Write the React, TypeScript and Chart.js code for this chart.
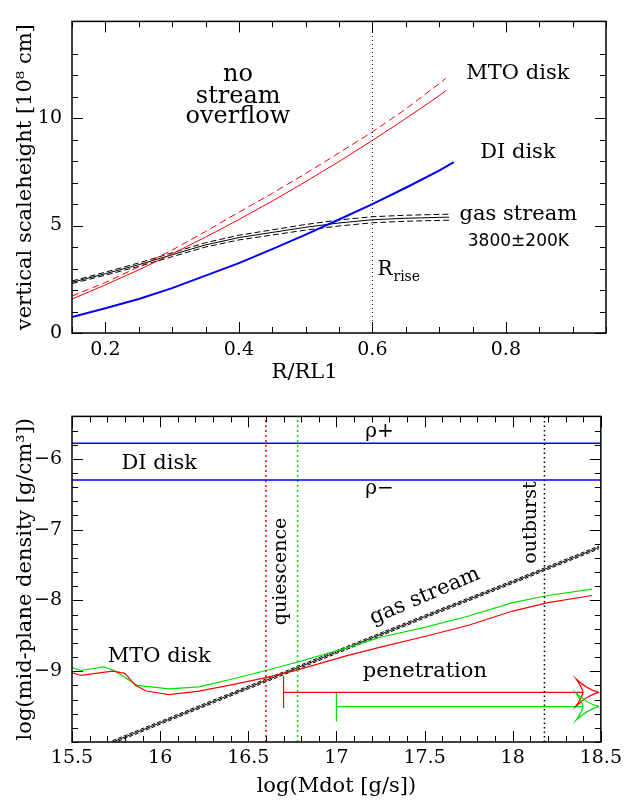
import React, { useEffect, useRef } from 'react';
import { Chart, registerables } from 'chart.js';

Chart.register(...registerables);

const SERIF = '"DejaVu Serif", serif';
const SANS = '"DejaVu Sans", sans-serif';
const RED = '#ff0000';
const GREEN = '#00e000';
const BLUE = '#0000ff';
const BLACK = '#000000';

// ---------------- top panel: vertical scale height vs R/RL1 ----------------
const topXMajor = [0.2, 0.4, 0.6, 0.8];
const topXLabels = ['0.2', '0.4', '0.6', '0.8'];
const topYMajor = [0, 5, 10];
const topYLabels = ['0', '5', '10'];

const mtoR = [0.15, 0.2, 0.25, 0.3, 0.35, 0.4, 0.45, 0.5, 0.55, 0.6, 0.65, 0.7, 0.71];
const mtoSolid = [1.58, 2.24, 2.94, 3.68, 4.46, 5.28, 6.14, 7.04, 7.98, 8.96, 9.98, 11.04, 11.27];
const mtoDashed = [1.72, 2.35, 3.08, 3.86, 4.72, 5.62, 6.5, 7.42, 8.38, 9.36, 10.42, 11.6, 11.85];

const diR = [0.15, 0.2, 0.25, 0.3, 0.35, 0.4, 0.45, 0.5, 0.55, 0.6, 0.65, 0.7, 0.722];
const diHeight = [0.74, 1.15, 1.58, 2.09, 2.67, 3.25, 3.9, 4.58, 5.28, 6.0, 6.76, 7.56, 7.95];

const gasR = [0.15, 0.2, 0.25, 0.3, 0.35, 0.4, 0.45, 0.5, 0.55, 0.6, 0.65, 0.7, 0.715];
const gasMid = [2.36, 2.76, 3.18, 3.64, 4.1, 4.44, 4.68, 4.92, 5.12, 5.27, 5.34, 5.38, 5.39];
const gasHi = [2.42, 2.83, 3.26, 3.73, 4.2, 4.55, 4.8, 5.05, 5.26, 5.41, 5.48, 5.52, 5.53];
const gasLo = [2.3, 2.69, 3.1, 3.55, 4.0, 4.33, 4.56, 4.79, 4.98, 5.13, 5.2, 5.24, 5.25];

const rRise = 0.6;
const topXRange = [0.15, 0.95];
const topYRange = [0, 14.5];

// ---------------- bottom panel: mid-plane density vs Mdot ----------------
const botXMajor = [15.5, 16, 16.5, 17, 17.5, 18, 18.5];
const botXLabels = ['15.5', '16', '16.5', '17', '17.5', '18', '18.5'];
const botYMajor = [-9, -8, -7, -6];
const botYLabels = ['\u22129', '\u22128', '\u22127', '\u22126'];
const botXRange = [15.5, 18.5];
const botYRange = [-10, -5.4];

const rhoPlus = -5.78;
const rhoMinus = -6.3;
const quiescenceRed = 16.6;
const quiescenceGreen = 16.78;
const outburst = 18.18;

const gasMdot = [15.73, 16.0, 16.5, 17.0, 17.5, 18.0, 18.49];
const gasDens = [-10.0, -9.73, -9.23, -8.73, -8.23, -7.74, -7.25];
const gasDensHi = [-9.98, -9.71, -9.21, -8.71, -8.21, -7.72, -7.23];
const gasDensLo = [-10.02, -9.75, -9.25, -8.75, -8.25, -7.76, -7.27];

const mtoRedMdot = [15.5, 15.55, 15.73, 15.8, 15.86, 15.92, 16.05, 16.22, 16.41, 16.6, 16.78, 17.06, 17.25, 17.5, 17.75, 18.0, 18.2, 18.45];
const mtoRedDens = [-9.02, -9.06, -9.0, -9.03, -9.2, -9.28, -9.33, -9.28, -9.19, -9.09, -8.98, -8.78, -8.66, -8.51, -8.35, -8.15, -8.03, -7.93];
const mtoGreenMdot = [15.5, 15.55, 15.68, 15.74, 15.87, 16.05, 16.22, 16.41, 16.6, 16.78, 17.06, 17.25, 17.5, 17.75, 18.0, 18.2, 18.45];
const mtoGreenDens = [-8.95, -8.99, -8.94, -8.99, -9.2, -9.25, -9.22, -9.11, -8.99, -8.87, -8.67, -8.52, -8.38, -8.22, -8.03, -7.93, -7.84];

// penetration ranges: [start, line end], level, start-bar extent, arrow tip
const penRedX = [16.7, 18.4];
const penRedY = -9.3;
const penRedBar = [-9.07, -9.52];
const penGreenX = [17.0, 18.4];
const penGreenY = -9.5;
const penGreenBar = [-9.3, -9.71];
const penTip = 18.49;

// ---------------- helpers ----------------
const pts = (xs: number[], ys: number[]) => xs.map((x, i) => ({ x, y: ys[i] }));

const line = (xs: number[], ys: number[], color: string, width: number, dash: number[] = []) => ({
  data: pts(xs, ys),
  showLine: true,
  borderColor: color,
  backgroundColor: color,
  borderWidth: width,
  borderDash: dash,
  pointRadius: 0,
  pointHoverRadius: 0,
  fill: false,
  tension: 0,
});

const near = (a: number, b: number) => Math.abs(a - b) < 1e-6;
const labelFor = (majors: number[], labels: string[]) => (v: any) => {
  const i = majors.findIndex((m) => near(m, Number(v)));
  return i >= 0 ? labels[i] : '';
};

const framePlugin = (xMajor: number[], yMajor: number[]) => ({
  id: 'frame',
  afterDatasetsDraw(chart: any) {
    const { ctx, chartArea, scales } = chart;
    const { left, right, top, bottom } = chartArea;
    const xs = scales.x;
    const ys = scales.y;
    ctx.save();
    ctx.strokeStyle = BLACK;
    ctx.lineWidth = 1;
    ctx.beginPath();
    for (const t of xs.ticks) {
      const p = Math.round(xs.getPixelForValue(t.value)) + 0.5;
      const L = xMajor.some((m) => near(m, t.value)) ? 11 : 6;
      ctx.moveTo(p, bottom);
      ctx.lineTo(p, bottom - L);
      ctx.moveTo(p, top);
      ctx.lineTo(p, top + L);
    }
    for (const t of ys.ticks) {
      const p = Math.round(ys.getPixelForValue(t.value)) + 0.5;
      const L = yMajor.some((m) => near(m, t.value)) ? 11 : 6;
      ctx.moveTo(left, p);
      ctx.lineTo(left + L, p);
      ctx.moveTo(right, p);
      ctx.lineTo(right - L, p);
    }
    ctx.stroke();
    ctx.lineWidth = 1.5;
    ctx.strokeRect(left, top, right - left, bottom - top);
    ctx.restore();
  },
});

type Note = { text: string; x: number; y: number; size: number; family?: string; rot?: number; sub?: string };

const notesPlugin = (notes: Note[]) => ({
  id: 'notes',
  afterDatasetsDraw(chart: any) {
    const { ctx, scales } = chart;
    for (const n of notes) {
      const px = scales.x.getPixelForValue(n.x);
      const py = scales.y.getPixelForValue(n.y);
      const fam = n.family || SERIF;
      ctx.save();
      ctx.translate(px, py);
      ctx.rotate(((n.rot || 0) * Math.PI) / 180);
      ctx.fillStyle = BLACK;
      ctx.textBaseline = 'middle';
      ctx.font = `${n.size}px ${fam}`;
      if (n.sub) {
        ctx.textAlign = 'left';
        ctx.fillText(n.text, 0, 0);
        const w = ctx.measureText(n.text).width;
        ctx.font = `${Math.round(n.size * 0.72)}px ${fam}`;
        ctx.fillText(n.sub, w + 1, n.size * 0.38);
      } else {
        ctx.textAlign = 'center';
        ctx.fillText(n.text, 0, 0);
      }
      ctx.restore();
    }
  },
});

const arrowPlugin = {
  id: 'arrows',
  afterDatasetsDraw(chart: any) {
    const { ctx, scales } = chart;
    const draw = (yv: number, color: string) => {
      const tx = scales.x.getPixelForValue(penTip);
      const ty = scales.y.getPixelForValue(yv);
      const L = 23;
      const H = 13.5;
      const B = 16;
      ctx.save();
      ctx.strokeStyle = color;
      ctx.lineWidth = 1.2;
      ctx.beginPath();
      ctx.moveTo(tx, ty);
      ctx.quadraticCurveTo(tx - 11, ty - 2.5, tx - L, ty - H);
      ctx.quadraticCurveTo(tx - B - 1, ty - 5, tx - B, ty);
      ctx.quadraticCurveTo(tx - B - 1, ty + 5, tx - L, ty + H);
      ctx.quadraticCurveTo(tx - 11, ty + 2.5, tx, ty);
      ctx.stroke();
      ctx.restore();
    };
    draw(penRedY, RED);
    draw(penGreenY, GREEN);
  },
};

const baseScale = (
  range: number[],
  step: number,
  majors: number[],
  labels: string[],
  size: number,
  padding: number,
  title: string,
  titlePad: any,
  showTitle = true
) => ({
  type: 'linear',
  min: range[0],
  max: range[1],
  grid: { display: false, drawTicks: false },
  border: { display: false },
  ticks: {
    stepSize: step,
    maxTicksLimit: 1000,
    autoSkip: false,
    maxRotation: 0,
    minRotation: 0,
    padding,
    color: BLACK,
    font: { family: SERIF, size: 19 },
    callback: labelFor(majors, labels),
  },
  title: { display: showTitle, text: title, color: BLACK, font: { family: SERIF, size }, padding: titlePad },
});

const topConfig = (): any => ({
  type: 'scatter',
  data: {
    datasets: [
      line([rRise, rRise], topYRange, BLACK, 1, [1, 3]),
      line(mtoR, mtoSolid, RED, 1),
      line(mtoR, mtoDashed, RED, 1, [7, 4]),
      line(diR, diHeight, BLUE, 2),
      line(gasR, gasMid, BLACK, 1),
      line(gasR, gasHi, BLACK, 1, [6, 3]),
      line(gasR, gasLo, BLACK, 1, [6, 3]),
    ],
  },
  options: {
    responsive: false,
    animation: false,
    devicePixelRatio: 1,
    events: [],
    layout: { padding: { left: 0, right: 21, top: 0, bottom: 0 } },
    plugins: { legend: { display: false }, tooltip: { enabled: false } },
    scales: {
      x: {
        ...baseScale(topXRange, 0.05, topXMajor, topXLabels, 21, 6, 'R/RL1', { top: 0, bottom: 8 }, false),
        afterFit: (s: any) => {
          s.height = 62;
        },
      },
      y: {
        ...baseScale(topYRange, 1, topYMajor, topYLabels, 21, 10, 'vertical scaleheight [10\u2078 cm]', { top: 13, bottom: 0 }),
        afterFit: (s: any) => {
          s.width = 72;
        },
      },
    },
  },
  plugins: [
    framePlugin(topXMajor, topYMajor),
    notesPlugin([
      { text: 'R/RL1', x: 0.4985, y: -1.83, size: 21 },
      { text: 'no', x: 0.3985, y: 12.0, size: 24 },
      { text: 'stream', x: 0.399, y: 11.0, size: 24 },
      { text: 'overflow', x: 0.3985, y: 10.06, size: 24 },
      { text: 'MTO disk', x: 0.818, y: 12.09, size: 21 },
      { text: 'DI disk', x: 0.818, y: 8.42, size: 21 },
      { text: 'gas stream', x: 0.8187, y: 5.49, size: 21 },
      { text: '3800\u00b1200K', x: 0.8187, y: 4.26, size: 17, family: SANS },
      { text: 'R', x: 0.6075, y: 2.95, size: 20, sub: 'rise' },
    ]),
  ],
});

const botConfig = (): any => ({
  type: 'scatter',
  data: {
    datasets: [
      line(botXRange, [rhoPlus, rhoPlus], BLUE, 1.5),
      line(botXRange, [rhoMinus, rhoMinus], BLUE, 1.5),
      line([quiescenceRed, quiescenceRed], botYRange, RED, 1.5, [2, 3]),
      line([quiescenceGreen, quiescenceGreen], botYRange, GREEN, 1.5, [2, 3]),
      line([outburst, outburst], botYRange, BLACK, 1.5, [1.5, 3]),
      line(penRedX, [penRedY, penRedY], RED, 1.2),
      line([penRedX[0], penRedX[0]], penRedBar, RED, 1.2),
      line(penGreenX, [penGreenY, penGreenY], GREEN, 1.2),
      line([penGreenX[0], penGreenX[0]], penGreenBar, GREEN, 1.2),
      line(mtoRedMdot, mtoRedDens, RED, 1.2),
      line(mtoGreenMdot, mtoGreenDens, GREEN, 1.2),
      line(gasMdot, gasDens, BLACK, 1),
      line(gasMdot, gasDensHi, BLACK, 1, [4, 2]),
      line(gasMdot, gasDensLo, BLACK, 1, [4, 2]),
    ],
  },
  options: {
    responsive: false,
    animation: false,
    devicePixelRatio: 1,
    events: [],
    layout: { padding: { left: 0, right: 21, top: 14, bottom: 0 } },
    plugins: { legend: { display: false }, tooltip: { enabled: false } },
    scales: {
      x: {
        ...baseScale(botXRange, 0.1, botXMajor, botXLabels, 21, 5, 'log(Mdot [g/s])', { top: 0, bottom: 4 }),
        afterFit: (s: any) => {
          s.height = 61;
        },
      },
      y: {
        ...baseScale(botYRange, 0.2, botYMajor, botYLabels, 21, 10, 'log(mid-plane density [g/cm\u00b3])', { top: 13, bottom: 0 }),
        afterFit: (s: any) => {
          s.width = 72;
        },
      },
    },
  },
  plugins: [
    framePlugin(botXMajor, botYMajor),
    arrowPlugin,
    notesPlugin([
      { text: '\u03c1+', x: 17.244, y: -5.624, size: 20 },
      { text: '\u03c1\u2212', x: 17.244, y: -6.423, size: 20 },
      { text: 'DI disk', x: 15.995, y: -6.06, size: 21 },
      { text: 'MTO disk', x: 15.995, y: -8.79, size: 21 },
      { text: 'quiescence', x: 16.685, y: -7.59, size: 19, rot: -90 },
      { text: 'outburst', x: 18.104, y: -6.9, size: 19, rot: -90 },
      { text: 'gas stream', x: 17.502, y: -7.94, size: 21, rot: -23 },
      { text: 'penetration', x: 17.502, y: -9.0, size: 21 },
    ]),
  ],
});

export default function App() {
  const topRef = useRef<HTMLCanvasElement>(null);
  const botRef = useRef<HTMLCanvasElement>(null);

  useEffect(() => {
    const c1 = new Chart(topRef.current as HTMLCanvasElement, topConfig());
    const c2 = new Chart(botRef.current as HTMLCanvasElement, botConfig());
    return () => {
      c1.destroy();
      c2.destroy();
    };
  }, []);

  return (
    <div style={{ position: 'absolute', left: 0, top: 0, width: 627, height: 803, background: '#ffffff' }}>
      <canvas ref={topRef} width={627} height={395} style={{ position: 'absolute', left: 0, top: 0 }} />
      <canvas ref={botRef} width={627} height={408} style={{ position: 'absolute', left: 0, top: 395 }} />
    </div>
  );
}
